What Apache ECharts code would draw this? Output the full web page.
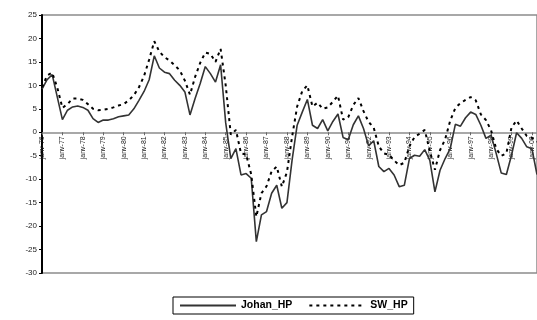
<!DOCTYPE html>
<html>
<head>
<meta charset="utf-8">
<script src="https://cdn.jsdelivr.net/npm/echarts@6/dist/echarts.min.js"></script>
<style>
  html, body { margin: 0; padding: 0; background: #fff; }
  #chart { width: 537px; height: 320px; }
</style>
</head>
<body>
<div id="chart"></div>
<script>
// quarterly labels, 1976 Q1 .. 2000 Q2
var months = ['janv', 'avr', 'juil', 'oct'];
var years = ['76','77','78','79','80','81','82','83','84','85','86','87','88','89','90','91','92','93','94','95','96','97','98','99','00'];

var categories = [];
years.forEach(function (y) {
    months.forEach(function (m) {
        categories.push(m + '-' + y);
    });
});
categories = categories.slice(0, 98);

var johanHP = [
    9.2, 11.2, 12.3, 7.5,
    2.7, 4.7, 5.4, 5.6,
    5.3, 4.7, 2.9, 2.1,
    2.6, 2.6, 2.9, 3.3,
    3.5, 3.7, 5.0, 6.8,
    8.7, 11.2, 16.3, 13.7,
    12.8, 12.5, 11.1, 10.0,
    8.6, 3.7, 7.2, 10.4,
    14.0, 12.5, 10.7, 14.4,
    2.0, -5.6, -3.5, -9.1,
    -8.8, -9.8, -23.3, -17.6,
    -16.9, -13.0, -11.3, -16.2,
    -15.0, -6.0, 1.5, 4.3,
    7.0, 1.5, 0.8, 2.7,
    0.3, 2.3, 3.9, -1.1,
    -1.6, 1.6, 3.5, 0.8,
    -2.9, -1.8, -7.3, -8.4,
    -7.7, -9.1, -11.6, -11.3,
    -5.6, -4.9, -5.1, -3.7,
    -6.0, -12.7, -8.1, -5.6,
    -3.5, 1.7, 1.3, 3.1,
    4.3, 3.8, 1.5, -1.3,
    -0.6, -4.5, -8.7, -9.0,
    -4.9, -0.1, -1.3, -3.1,
    -3.5, -9.0
];

var swHP = [
    9.6, 12.1, 12.7, 9.5,
    5.2, 6.0, 7.2, 7.2,
    6.9, 6.0, 5.0, 4.7,
    4.8, 5.0, 5.3, 5.7,
    6.0, 6.8, 7.9, 9.6,
    12.0, 15.5, 19.4, 17.2,
    16.0, 15.3, 14.3, 13.2,
    11.0, 8.0, 11.8, 14.8,
    17.0, 16.7, 15.0, 17.8,
    10.0, -0.5, 0.5, -4.5,
    -4.7, -9.0, -18.0, -13.0,
    -11.5, -8.3, -7.3, -11.6,
    -8.5, -1.0, 5.5, 8.8,
    10.0, 5.5, 6.3, 5.0,
    5.3, 6.5, 7.8, 2.7,
    3.2, 5.8, 7.3, 4.5,
    2.2, 1.0, -3.0, -4.5,
    -4.8, -6.0, -7.0, -6.5,
    -3.0, -1.0, -0.3, 0.5,
    -4.0, -8.0, -3.8, -1.5,
    2.5, 5.2, 6.2, 6.9,
    7.5, 6.8, 3.8, 2.6,
    0.4, -3.5, -5.0, -4.5,
    1.0, 2.5, 0.8, -0.8,
    -1.2, -2.0
];

var yTicks = { min: -30, max: 25, step: 5 };

var font = '"Liberation Sans", Arial, sans-serif';
var myChart = echarts.init(document.getElementById('chart'));

// grid: top 15, bottom 273 -> the zero line sits 30/55 of the height above the bottom
var gridTop = 15, gridBottom = 273;
var zeroOffset = (gridBottom - gridTop) * (0 - yTicks.min) / (yTicks.max - yTicks.min);

myChart.setOption({
    animation: false,
    grid: {
        left: 42,
        right: -3,
        top: gridTop,
        bottom: 320 - gridBottom,
        show: true,
        borderColor: '#8c8c8c',
        borderWidth: 1.5,
        backgroundColor: '#fff'
    },
    legend: {
        left: 173,
        top: 297,
        width: 239,
        padding: [3, 6, 3, 6],
        itemGap: 16,
        itemWidth: 56,
        itemHeight: 10,
        itemStyle: { opacity: 0 },
        borderColor: '#000',
        borderWidth: 1,
        textStyle: { fontFamily: font, fontSize: 10.5, fontWeight: 'bold', color: '#000' },
        data: ['Johan_HP', 'SW_HP']
    },
    xAxis: {
        type: 'category',
        data: categories,
        boundaryGap: false,
        offset: -zeroOffset,
        axisLine: { onZero: false, lineStyle: { color: '#8c8c8c', width: 1.5 } },
        axisTick: { show: true, interval: 3, length: 3, lineStyle: { color: '#666' } },
        axisLabel: {
            interval: 3,
            rotate: 90,
            margin: 4,
            fontFamily: font,
            fontSize: 7,
            color: '#222'
        },
        splitLine: { show: false }
    },
    yAxis: {
        type: 'value',
        min: yTicks.min,
        max: yTicks.max,
        interval: yTicks.step,
        axisLine: { show: true, lineStyle: { color: '#000', width: 2 } },
        axisTick: { show: true, length: 3, lineStyle: { color: '#000' } },
        axisLabel: { fontFamily: font, fontSize: 8, color: '#222', margin: 5 },
        splitLine: { show: false }
    },
    series: [
        {
            name: 'Johan_HP',
            type: 'line',
            data: johanHP,
            symbol: 'none',
            lineStyle: { color: '#333', width: 1.6 },
            itemStyle: { color: '#333' }
        },
        {
            name: 'SW_HP',
            type: 'line',
            data: swHP,
            symbol: 'none',
            lineStyle: { color: '#000', width: 2, type: [3, 4] },
            itemStyle: { color: '#000' }
        }
    ]
});
</script>
</body>
</html>
